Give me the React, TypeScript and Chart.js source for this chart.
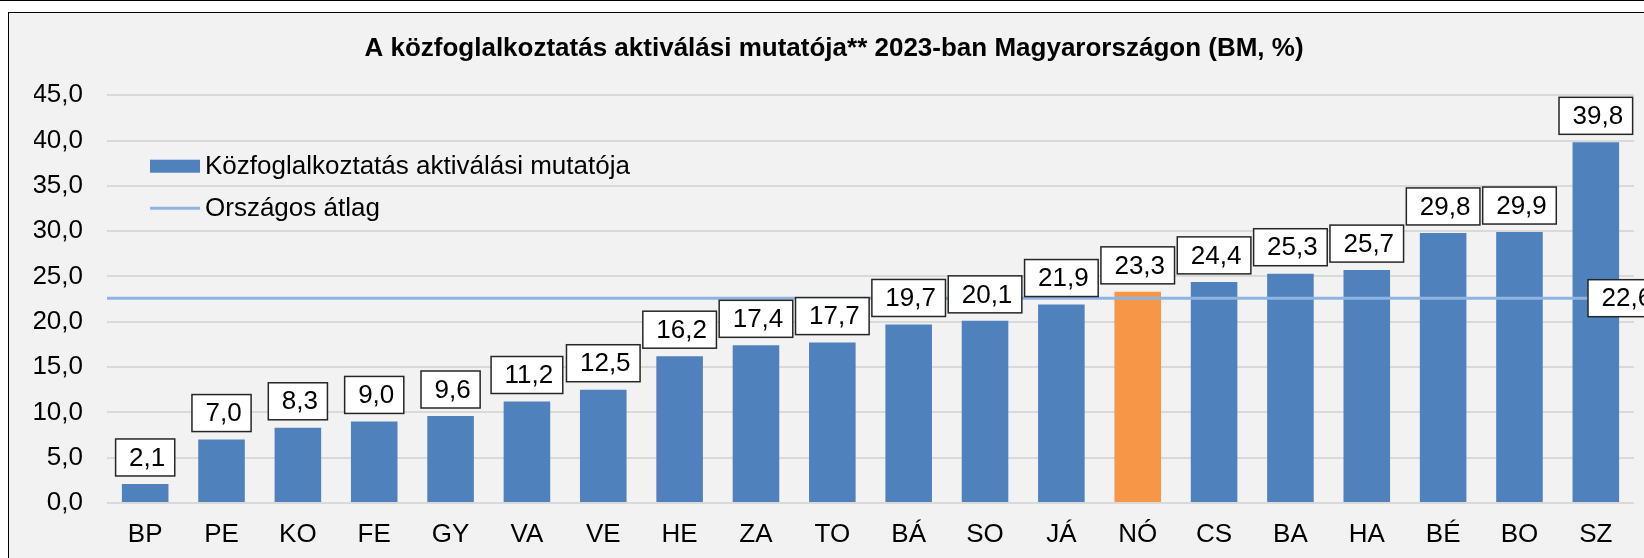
import React, { useEffect, useRef } from 'react';
import { Chart, registerables } from 'chart.js';

Chart.register(...registerables);

const FONT = '"Liberation Sans", Arial, sans-serif';

const chartTitle = 'A közfoglalkoztatás aktiválási mutatója** 2023-ban Magyarországon (BM, %)';
const categories = ['BP', 'PE', 'KO', 'FE', 'GY', 'VA', 'VE', 'HE', 'ZA', 'TO', 'BÁ', 'SO', 'JÁ', 'NÓ', 'CS', 'BA', 'HA', 'BÉ', 'BO', 'SZ'];
const activationValues = [2.1, 7.0, 8.3, 9.0, 9.6, 11.2, 12.5, 16.2, 17.4, 17.7, 19.7, 20.1, 21.9, 23.3, 24.4, 25.3, 25.7, 29.8, 29.9, 39.8];
const nationalAverage = 22.6;
const averageValues = categories.map(() => nationalAverage);
const highlightedCategories = ['NÓ'];
const seriesNames = ['Közfoglalkoztatás aktiválási mutatója', 'Országos átlag'];
const yMin = 0;
const yMax = 45;
const yStep = 5;

const BAR_BLUE = '#4f81bd';
const BAR_ORANGE = '#f79646';
const AVG_BLUE = '#8eb4e3';

const fmt = (v: number) => v.toFixed(1).replace('.', ',');

function drawValueBox(ctx: CanvasRenderingContext2D, cx: number, top: number, text: string, leftOverride?: number) {
  const w = ctx.measureText(text).width + 23;
  const h = 37;
  const left = leftOverride !== undefined ? leftOverride : cx - w / 2;
  ctx.fillStyle = '#ffffff';
  ctx.fillRect(left, top, w, h);
  ctx.lineWidth = 1.5;
  ctx.strokeStyle = '#262626';
  ctx.strokeRect(left, top, w, h);
  ctx.fillStyle = '#000000';
  ctx.textAlign = 'center';
  ctx.textBaseline = 'middle';
  ctx.fillText(text, left + w / 2 + 2, top + h / 2 + 1);
}

const valueBoxesPlugin = {
  id: 'valueBoxes',
  afterDatasetsDraw(chart: any) {
    const ctx: CanvasRenderingContext2D = chart.ctx;
    ctx.save();
    ctx.font = `26px ${FONT}`;
    const barMeta = chart.getDatasetMeta(0);
    barMeta.data.forEach((bar: any, i: number) => {
      const bottom = bar.y - 8;
      drawValueBox(ctx, bar.x, bottom - 37, fmt(activationValues[i]));
    });
    const lineMeta = chart.getDatasetMeta(1);
    const last = lineMeta.data[lineMeta.data.length - 1];
    if (last) {
      drawValueBox(ctx, last.x, last.y - 37 / 2, fmt(nationalAverage), last.x - 46);
    }
    ctx.restore();
  },
};

const insideLegendPlugin = {
  id: 'insideLegend',
  afterDraw(chart: any) {
    const ctx: CanvasRenderingContext2D = chart.ctx;
    const area = chart.chartArea;
    const swLeft = area.left + 43;
    const swWidth = 50;
    const rows = [area.top + 71, area.top + 113];
    ctx.save();
    ctx.font = `26px ${FONT}`;
    ctx.textAlign = 'left';
    ctx.textBaseline = 'middle';
    ctx.fillStyle = BAR_BLUE;
    ctx.fillRect(swLeft, rows[0] - 6.5, swWidth, 13);
    ctx.fillStyle = '#000';
    ctx.fillText(seriesNames[0], swLeft + swWidth + 5, rows[0] + 1);
    ctx.strokeStyle = AVG_BLUE;
    ctx.lineWidth = 3;
    ctx.beginPath();
    ctx.moveTo(swLeft, rows[1]);
    ctx.lineTo(swLeft + swWidth, rows[1]);
    ctx.stroke();
    ctx.fillText(seriesNames[1], swLeft + swWidth + 5, rows[1] + 1);
    ctx.restore();
  },
};

export default function App() {
  const canvasRef = useRef<HTMLCanvasElement | null>(null);

  useEffect(() => {
    if (!canvasRef.current) return;
    const chart = new Chart(canvasRef.current, {
      type: 'bar',
      data: {
        labels: categories,
        datasets: [
          {
            type: 'bar',
            label: seriesNames[0],
            data: activationValues,
            backgroundColor: categories.map((c) => (highlightedCategories.includes(c) ? BAR_ORANGE : BAR_BLUE)),
            borderWidth: 0,
            categoryPercentage: 1,
            barPercentage: 0.61,
            grouped: false,
            order: 2,
            xAxisID: 'x',
          } as any,
          {
            type: 'line',
            label: seriesNames[1],
            data: averageValues,
            borderColor: AVG_BLUE,
            borderWidth: 3,
            pointRadius: 0,
            fill: false,
            order: 1,
            xAxisID: 'x2',
          } as any,
        ],
      },
      options: {
        responsive: false,
        animation: false,
        devicePixelRatio: 1,
        layout: { padding: { left: 34, right: 10, top: 0, bottom: 0 } },
        plugins: {
          legend: { display: false },
          tooltip: { enabled: false },
          title: {
            display: true,
            text: chartTitle,
            color: '#000',
            font: { family: FONT, size: 26, weight: 'bold' },
            padding: { top: 33, bottom: 31 },
          },
        },
        scales: {
          x: {
            type: 'category',
            offset: true,
            grid: { display: false, drawTicks: false },
            border: { display: false },
            ticks: { color: '#000', font: { family: FONT, size: 26 }, padding: 16, maxRotation: 0, autoSkip: false },
            afterFit: (scale: any) => {
              scale.height = 55;
            },
          },
          x2: {
            type: 'category',
            labels: categories,
            offset: false,
            display: false,
          },
          y: {
            min: yMin,
            max: yMax,
            ticks: {
              stepSize: yStep,
              color: '#000',
              font: { family: FONT, size: 26 },
              padding: 24,
              callback: (v: any) => fmt(Number(v)),
            },
            grid: { color: '#d9d9d9', lineWidth: 2, drawTicks: false },
            border: { display: false },
            afterFit: (scale: any) => {
              scale.width = 73;
            },
          },
        },
      } as any,
      plugins: [valueBoxesPlugin, insideLegendPlugin],
    });
    return () => chart.destroy();
  }, []);

  return (
    <div style={{ position: 'fixed', left: 0, top: 0, width: 1644, height: 558, overflow: 'hidden', background: '#ffffff' }}>
      <div style={{ position: 'absolute', left: 0, top: 0, width: 1644, height: 1, background: '#000' }} />
      <div
        style={{
          position: 'absolute',
          left: 8,
          top: 12,
          width: 1700,
          height: 600,
          border: '1.5px solid #000',
          background: '#f2f2f2',
          boxSizing: 'border-box',
        }}
      />
      <canvas ref={canvasRef} width={1644} height={558} style={{ position: 'absolute', left: 0, top: 0, width: 1644, height: 558 }} />
    </div>
  );
}
